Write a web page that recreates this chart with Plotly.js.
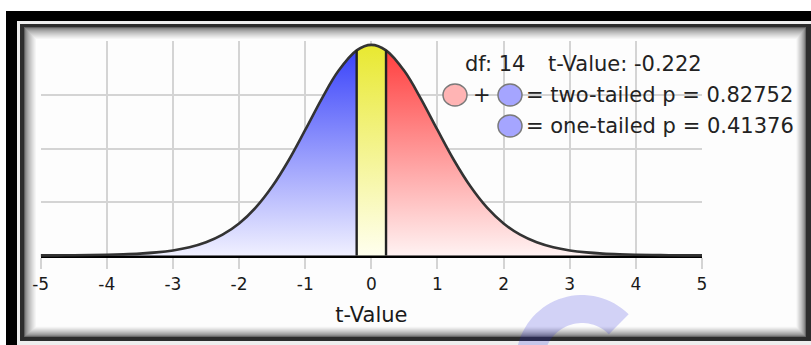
<!DOCTYPE html>
<html>
<head>
<meta charset="utf-8">
<script src="https://cdn.plot.ly/plotly-3.0.1.min.js"></script>
<style>html,body{margin:0;padding:0;background:#fff;}#chart{width:811px;height:345px;}</style>
</head>
<body>
<div id="chart"></div>
<script>
// ---- data ----
const df = 14;
const tValue = -0.222;
const pTwoTailed = 0.82752;
const pOneTailed = 0.41376;
const tPoints = [-5,-4.75,-4.5,-4.25,-4,-3.75,-3.5,-3.25,-3,-2.75,-2.5,-2.25,-2,-1.75,-1.5,-1.25,-1,-0.75,-0.5,-0.222,
  0,
  0.222,0.5,0.75,1,1.25,1.5,1.75,2,2.25,2.5,2.75,3,3.25,3.5,3.75,4,4.25,4.5,4.75,5];
const density = [0.0002,0.0003,0.0005,0.0008,0.0013,0.0021,0.0035,0.0058,0.0095,0.0154,0.0247,0.0389,0.0598,0.0894,0.1289,0.1782,0.2349,0.2932,0.3450,0.3838,
  0.3940,
  0.3838,0.3450,0.2932,0.2349,0.1782,0.1289,0.0894,0.0598,0.0389,0.0247,0.0154,0.0095,0.0058,0.0035,0.0021,0.0013,0.0008,0.0005,0.0003,0.0002];
const tickVals = [-5,-4,-3,-2,-1,0,1,2,3,4,5];
const tickLabels = ['-5','-4','-3','-2','-1','0','1','2','3','4','5'];
const yGridVals = [0.1,0.2,0.3,0.4];

// ---- geometry helpers (pixels -> paper) ----
const W = 811, H = 345;
const px = x => x / W;
const py = y => 1 - y / H;
const X0PX = 40.7, X5PX = 702.0;      // pixel of t=-5 and t=5
const Y0PX = 255.5, Y4PX = 41.7;      // pixel of density 0 and 0.4
const xr = [-5.002, 5.002], yr = [-0.003, 0.4005];
const xs = (X5PX - X0PX) / 10, ys = (Y0PX - Y4PX) / 0.4;
const xDom = [px(X0PX + (xr[0] + 5) * xs), px(X0PX + (xr[1] + 5) * xs)];
const yDom = [py(Y0PX - yr[0] * ys), py(Y0PX - yr[1] * ys)];

// ---- split the curve into the three coloured regions ----
const lo = -Math.abs(tValue), hi = Math.abs(tValue);
function seg(f) {
  const x = [], y = [];
  tPoints.forEach((t, i) => { if (f(t)) { x.push(t); y.push(density[i]); } });
  return {x, y};
}
const leftSeg = seg(t => t <= lo + 1e-9);
const midSeg = seg(t => t >= lo - 1e-9 && t <= hi + 1e-9);
const rightSeg = seg(t => t >= hi - 1e-9);
const dAt = t => density[tPoints.findIndex(v => Math.abs(v - t) < 1e-9)];

function fillTrace(s, cs) {
  return {x: s.x, y: s.y, type: 'scatter', mode: 'lines', fill: 'tozeroy',
    line: {width: 0, shape: 'spline'}, hoverinfo: 'skip',
    fillgradient: {type: 'vertical', start: 0, stop: 0.4, colorscale: cs}};
}
const traces = [
  fillTrace(leftSeg, [[0, 'rgb(240,240,255)'], [1, 'rgb(50,60,250)']]),
  fillTrace(midSeg, [[0, 'rgb(255,255,238)'], [1, 'rgb(232,232,45)']]),
  fillTrace(rightSeg, [[0, 'rgb(255,242,242)'], [1, 'rgb(255,55,55)']]),
  {x: tPoints, y: density, type: 'scatter', mode: 'lines', hoverinfo: 'skip',
    line: {color: '#333', width: 2.6, shape: 'spline'}},
  {x: [lo, lo], y: [0, dAt(lo)], type: 'scatter', mode: 'lines', hoverinfo: 'skip',
    line: {color: '#222', width: 2.4}},
  {x: [hi, hi], y: [0, dAt(hi)], type: 'scatter', mode: 'lines', hoverinfo: 'skip',
    line: {color: '#222', width: 2.4}}
];

// ---- decorations: frame, legend box, watermark ----
const shapes = [];
function rect(x0, y0, x1, y1, color, layer) {
  shapes.push({type: 'rect', xref: 'paper', yref: 'paper', x0: px(x0), x1: px(x1), y0: py(y1), y1: py(y0),
    fillcolor: color, line: {width: 0}, layer: layer || 'below'});
}
rect(6, 11, 811, 345, '#000');
rect(17, 21, 811, 345, '#eeeeee');
rect(20, 24, 811, 341, '#2c2c2c');
const steps = 12;
for (let i = 0; i <= steps; i++) {
  const f = Math.pow(i / steps, 0.6);
  const g = Math.round(95 + (253 - 95) * f);
  rect(24 + i, 27 + i, 806 - i * 0.8, 337 - i * 0.85, 'rgb(' + g + ',' + g + ',' + g + ')');
}
// legend background (hides the grid behind the legend)
rect(441, 39.5, 712, 148, '#fdfdfd', 'between');

// legend circles
function circ(x0, y0, x1, y1, fill) {
  shapes.push({type: 'circle', xref: 'paper', yref: 'paper', x0: px(x0), x1: px(x1), y0: py(y1), y1: py(y0),
    fillcolor: fill, line: {color: '#7a7a7a', width: 1.5}, layer: 'above'});
}
circ(443, 84, 467, 106, 'rgb(255,180,180)');
circ(498, 84, 522, 106, 'rgb(165,165,255)');
circ(498, 115, 522, 137, 'rgb(165,165,255)');

// watermark arc
(function () {
  const cx = 582, cy = 361, R = 66, r = 38, a0 = -200, a1 = -45;
  let d = '';
  const n = 40;
  for (let k = 0; k <= n; k++) {
    const a = (a0 + (a1 - a0) * k / n) * Math.PI / 180;
    d += (k === 0 ? 'M' : 'L') + px(cx + R * Math.cos(a)).toFixed(5) + ',' + py(cy + R * Math.sin(a)).toFixed(5);
  }
  for (let k = n; k >= 0; k--) {
    const a = (a0 + (a1 - a0) * k / n) * Math.PI / 180;
    d += 'L' + px(cx + r * Math.cos(a)).toFixed(5) + ',' + py(cy + r * Math.sin(a)).toFixed(5);
  }
  d += 'Z';
  shapes.push({type: 'path', xref: 'paper', yref: 'paper', path: d,
    fillcolor: 'rgba(40,40,220,0.2)', line: {width: 0}, layer: 'above'});
})();

const FONT = 'DejaVu Sans, Verdana, sans-serif';
function note(text, x, y, anchor) {
  return {text: text, xref: 'paper', yref: 'paper', x: px(x), y: py(y), xanchor: anchor || 'left', yanchor: 'middle',
    showarrow: false, borderpad: 0, font: {family: FONT, size: 21, color: '#222'}};
}
const annotations = [
  note('df: ' + df, 464, 64),
  note('t-Value: ' + tValue.toFixed(3), 547, 64),
  note('+', 482, 95, 'center'),
  note('= two-tailed p = ' + pTwoTailed.toFixed(5), 525, 95),
  note('= one-tailed p = ' + pOneTailed.toFixed(5), 525, 126)
];

const layout = {
  width: W, height: H, autosize: false,
  margin: {l: 0, r: 0, t: 0, b: 0, pad: 0},
  paper_bgcolor: '#ffffff', plot_bgcolor: 'rgba(0,0,0,0)',
  showlegend: false,
  xaxis: {domain: xDom, range: xr, tickmode: 'array', tickvals: tickVals, ticktext: tickLabels,
    ticks: 'outside', ticklen: 11, tickwidth: 2, tickcolor: '#d4d4d4',
    showgrid: true, gridcolor: '#d4d4d4', gridwidth: 2, zeroline: false, showline: false,
    tickfont: {family: FONT, size: 17, color: '#1a1a1a'},
    title: {text: 't-Value', font: {family: FONT, size: 21, color: '#1a1a1a'}, standoff: 14},
    fixedrange: true},
  yaxis: {domain: yDom, range: yr, tickmode: 'array', tickvals: yGridVals, showticklabels: false, ticks: '',
    showgrid: true, gridcolor: '#d4d4d4', gridwidth: 2,
    zeroline: true, zerolinecolor: '#000', zerolinewidth: 4, showline: false, fixedrange: true},
  shapes: shapes,
  annotations: annotations
};

Plotly.newPlot('chart', traces, layout, {displayModeBar: false, staticPlot: true});
</script>
</body>
</html>
